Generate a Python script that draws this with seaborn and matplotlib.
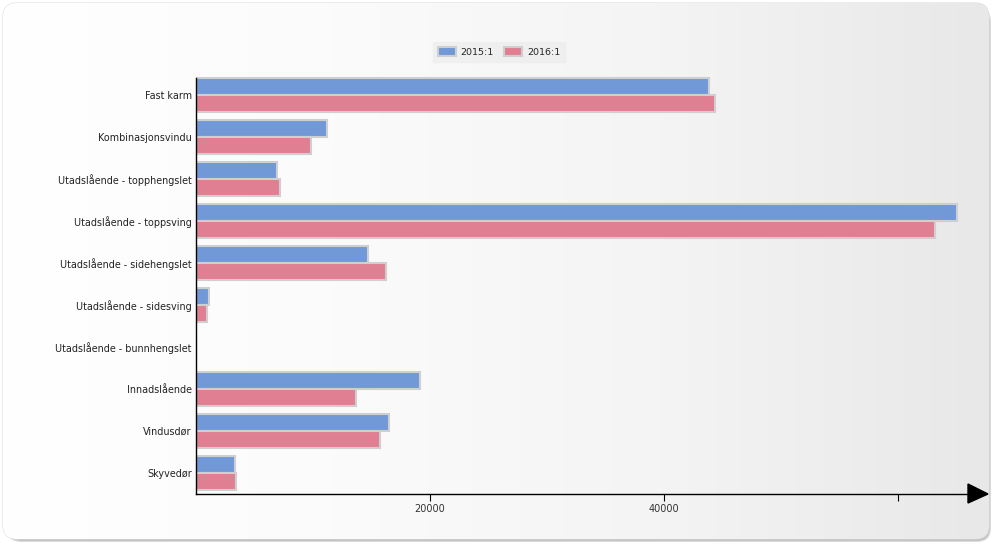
import numpy as np
import pandas as pd
import seaborn as sns
import matplotlib
matplotlib.use("Agg")
import matplotlib.pyplot as plt
from matplotlib.patches import FancyBboxPatch, Polygon
from matplotlib.colors import LinearSegmentedColormap

categories = [
    "Fast karm",
    "Kombinasjonsvindu",
    "Utadslående - topphengslet",
    "Utadslående - toppsving",
    "Utadslående - sidehengslet",
    "Utadslående - sidesving",
    "Utadslående - bunnhengslet",
    "Innadslående",
    "Vindusdør",
    "Skyvedør",
]
series_names = ["2015:1", "2016:1"]
values_2015 = [43850, 11200, 6900, 65100, 14700, 1100, 0, 19150, 16500, 3350]
values_2016 = [44350, 9850, 7200, 63150, 16250, 950, 0, 13700, 15750, 3400]
x_ticks = [20000, 40000, 60000]
x_tick_labels = ["20000", "40000", ""]

colors = ["#7199d8", "#e07f91"]

df = pd.DataFrame({
    "category": categories * 2,
    "series": [series_names[0]] * len(categories) + [series_names[1]] * len(categories),
    "value": values_2015 + values_2016,
})

sns.set_theme(style="white")
plt.rcParams["font.family"] = ["DejaVu Sans"]

W, H = 1000, 550
fig = plt.figure(figsize=(W / 100, H / 100), dpi=100)

# background panel with shadow and gradient
bg = fig.add_axes([0, 0, 1, 1], zorder=-10)
bg.set_xlim(0, W)
bg.set_ylim(H, 0)
bg.axis("off")
for i, a in enumerate([0.05, 0.07, 0.10, 0.14]):
    off = 4 - i
    sh = FancyBboxPatch((6 + off, 7 + off), 986 - 2 * off, 536 - 2 * off,
                        boxstyle="round,pad=0,rounding_size=14",
                        fc="#000000", ec="none", alpha=a)
    bg.add_patch(sh)
panel = FancyBboxPatch((3, 3), 986, 536, boxstyle="round,pad=0,rounding_size=14",
                       fc="white", ec="#dddddd", lw=0.8)
bg.add_patch(panel)
grad = np.linspace(0, 1, 256)[None, :]
grad = np.vstack([grad, grad])
cmap = LinearSegmentedColormap.from_list("g", ["#ffffff", "#fbfbfb", "#f4f4f4", "#e8e8e8"])
im = bg.imshow(grad, extent=[3, 989, 539, 3], aspect="auto", cmap=cmap, zorder=1)
im.set_clip_path(panel)

# main axes
left_px, right_px = 196, 968
top_px, bot_px = 74, 494
ax = fig.add_axes([left_px / W, 1 - bot_px / H, (right_px - left_px) / W, (bot_px - top_px) / H])
ax.patch.set_alpha(0)

sns.barplot(data=df, y="category", x="value", hue="series", order=categories,
            hue_order=series_names, palette=colors, orient="h", width=0.8,
            edgecolor="#cfcfcf", linewidth=1.5, saturation=1, ax=ax, dodge=True)

ax.set_xlim(0, 66000)
ax.set_ylim(len(categories) - 0.5, -0.5)
ax.set_xlabel("")
ax.set_ylabel("")
ax.set_xticks(x_ticks)
ax.set_xticklabels(x_tick_labels, fontsize=7, color="#333333")
ax.tick_params(axis="x", direction="out", length=5, width=0.8, color="black", pad=2, bottom=True)
ax.tick_params(axis="y", length=0, labelsize=6.9, pad=3, labelcolor="#222222")
for s in ["top", "right"]:
    ax.spines[s].set_visible(False)
ax.spines["left"].set_color("black")
ax.spines["left"].set_linewidth(1)
ax.spines["bottom"].set_color("black")
ax.spines["bottom"].set_linewidth(1)
ax.spines["left"].set_bounds(len(categories) - 0.5, -0.4)

# arrow at end of x axis
tri = Polygon([[968, 484], [988, 494], [968, 503]], closed=True, fc="black", ec="black")
bg.add_patch(tri)

# legend
leg = ax.legend(loc="upper center",
                bbox_to_anchor=((499 - left_px) / (right_px - left_px), 1 + (top_px - 37) / (bot_px - top_px)),
                ncol=2, frameon=True, fontsize=6.8, handlelength=1.9, handleheight=1.1,
                columnspacing=1.1, borderpad=0.55, handletextpad=0.5)
leg.get_frame().set_facecolor("#eeeeee")
leg.get_frame().set_edgecolor("#eeeeee")
leg.get_frame().set_boxstyle("square", pad=0)

fig.savefig("out.png", dpi=100)
